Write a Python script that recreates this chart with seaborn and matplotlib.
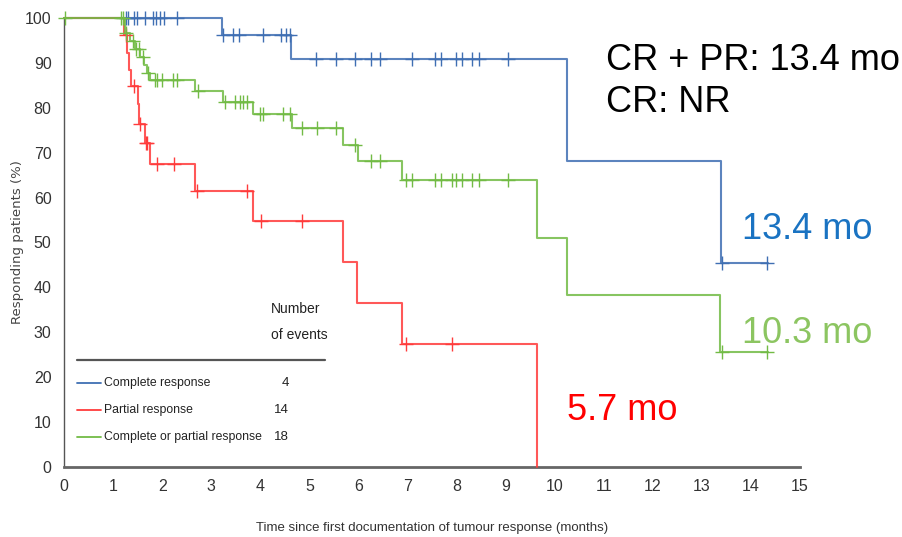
import numpy as np
import pandas as pd
import matplotlib
matplotlib.use("Agg")
import matplotlib.pyplot as plt
from matplotlib import font_manager as fm
import seaborn as sns

# ---------------- data ----------------
cr_times = [0.0, 3.22, 4.62, 10.26, 13.38, 14.35]
cr_surv = [100.0, 96.3, 90.9, 68.2, 45.5, 45.5]
cr_censor = [1.26, 1.31, 1.43, 1.48, 1.65, 1.81, 1.87, 1.96, 2.04, 2.30,
             3.25, 3.45, 3.57, 4.05, 4.43, 4.52, 4.60,
             5.13, 5.55, 5.93, 6.25, 6.44, 7.10, 7.56, 7.69, 7.99, 8.12, 8.32, 8.45, 9.04,
             13.41, 14.33]

pr_times = [0.0, 1.22, 1.29, 1.33, 1.36, 1.51, 1.53, 1.65, 1.75, 2.67, 3.86, 5.68, 5.98, 6.88, 9.63]
pr_surv = [100.0, 96.2, 92.3, 88.5, 84.8, 80.9, 76.5, 72.1, 67.4, 61.5, 54.8, 45.6, 36.5, 27.4, 0.0]
pr_censor = [1.27, 1.43, 1.55, 1.68, 1.70, 1.89, 2.24, 2.72, 3.72, 4.01, 4.84, 6.97, 7.90]

cp_times = [0.0, 1.24, 1.35, 1.45, 1.55, 1.62, 1.70, 1.75, 2.67, 3.23, 3.86, 4.64,
            5.69, 6.00, 6.88, 9.63, 10.26, 13.37, 14.35]
cp_surv = [100.0, 96.6, 94.8, 93.0, 91.3, 89.6, 87.8, 86.2, 83.8, 81.3, 78.6, 75.5,
           71.7, 68.2, 63.9, 50.9, 38.3, 25.7, 25.7]
cp_censor = [0.02, 1.17, 1.21, 1.26, 1.40, 1.47, 1.52, 1.60, 1.72, 1.85, 1.90, 1.99, 2.23, 2.30,
             2.74, 3.28, 3.48, 3.58, 3.65, 3.72, 4.00, 4.06, 4.47, 4.60, 4.84, 5.15, 5.55,
             5.93, 6.25, 6.44, 6.97, 7.10, 7.56, 7.69, 7.90, 7.99, 8.12, 8.32, 8.45, 9.04,
             13.41, 14.33]

group_names = ["Complete response", "Partial response", "Complete or partial response"]
event_counts = [4, 14, 18]
x_ticks = list(range(0, 16))
y_ticks = list(range(0, 101, 10))
annotations = ["CR + PR: 13.4 mo", "CR: NR", "13.4 mo", "10.3 mo", "5.7 mo"]

# ---------------- styling ----------------
sns.set_style("white")
available = {f.name for f in fm.fontManager.ttflist}
narrow = "Liberation Sans Narrow" if "Liberation Sans Narrow" in available else "Liberation Sans"
plt.rcParams["font.family"] = [narrow, "DejaVu Sans"]

line_colors = ["#3f6fb3", "#ff3b3b", "#72bb45"]
text_colors = {"13.4 mo": "#1a73c2", "10.3 mo": "#8cc561", "5.7 mo": "#ff0000"}

fig = plt.figure(figsize=(9.03, 5.37), dpi=100)
ax = fig.add_axes([0.0709, 0.1304, 0.8151, 0.8361])

groups = [(cr_times, cr_surv, cr_censor), (pr_times, pr_surv, pr_censor), (cp_times, cp_surv, cp_censor)]
order = [2, 1, 0]  # draw green first, blue on top
for gi in order:
    t, s, c = groups[gi]
    df = pd.DataFrame({"time": t, "surv": s})
    sns.lineplot(data=df, x="time", y="surv", ax=ax, drawstyle="steps-post",
                 color=line_colors[gi], lw=1.5, alpha=0.85, estimator=None, sort=False,
                 clip_on=False, zorder=3 + gi)
    t_arr = np.asarray(t)
    s_arr = np.asarray(s)
    idx = np.searchsorted(t_arr, np.asarray(c), side="right") - 1
    cdf = pd.DataFrame({"time": c, "surv": s_arr[idx]})
    sns.scatterplot(data=cdf, x="time", y="surv", ax=ax, marker="+", s=100,
                    color=line_colors[gi], linewidth=1.0, clip_on=False, zorder=4 + gi)

ax.set_xlim(0, 15)
ax.set_ylim(0, 100)
ax.set_xticks(x_ticks)
ax.set_yticks(y_ticks)
ax.set_xticklabels([str(v) for v in x_ticks])
ax.set_yticklabels([str(v) for v in y_ticks])
ax.tick_params(direction="out", length=6, width=1, colors="#555555", labelsize=11.5,
               labelcolor="#333333", pad=3)
for side in ["top", "right"]:
    ax.spines[side].set_visible(False)
ax.spines["left"].set_color("#555555")
ax.spines["left"].set_linewidth(1.0)
ax.spines["bottom"].set_color("#666666")
ax.spines["bottom"].set_linewidth(2.0)

ax.set_xlabel("Time since first documentation of tumour response (months)",
              fontsize=9.5, color="#333333", labelpad=20)
ax.set_ylabel("Responding patients (%)", fontsize=9.5, color="#444444",
              family=["DejaVu Sans"])
ax.yaxis.set_label_coords(-0.054, 0.5)

# ---------------- legend table ----------------
ax.text(0.281, 0.352, "Number", transform=ax.transAxes, fontsize=10, color="#222222",
        ha="left", va="center")
ax.text(0.281, 0.295, "of events", transform=ax.transAxes, fontsize=10, color="#222222",
        ha="left", va="center")
ax.plot([0.0177, 0.355], [0.238, 0.238], transform=ax.transAxes, color="#555555", lw=1.6)
row_y = [0.187, 0.127, 0.0668]
for name, n, col, y in zip(group_names, event_counts, line_colors, row_y):
    ax.plot([0.0177, 0.050], [y, y], transform=ax.transAxes, color=col, lw=1.3)
    ax.text(0.054, y, name, transform=ax.transAxes, fontsize=8.8, color="#222222",
            ha="left", va="center")
    ax.text(0.306, y, str(n), transform=ax.transAxes, fontsize=9.5, color="#222222",
            ha="right", va="center")

# ---------------- big annotations ----------------
big = ["Liberation Sans", "DejaVu Sans"]
fig.text(606 / 903, 1 - 70 / 537, annotations[0], fontsize=26, family=big, color="black",
         ha="left", va="baseline")
fig.text(606 / 903, 1 - 112 / 537, annotations[1], fontsize=26, family=big, color="black",
         ha="left", va="baseline")
fig.text(742 / 903, 1 - 239 / 537, annotations[2], fontsize=26, family=big,
         color=text_colors["13.4 mo"], ha="left", va="baseline")
fig.text(742 / 903, 1 - 343 / 537, annotations[3], fontsize=26, family=big,
         color=text_colors["10.3 mo"], ha="left", va="baseline")
fig.text(567 / 903, 1 - 420 / 537, annotations[4], fontsize=26, family=big,
         color=text_colors["5.7 mo"], ha="left", va="baseline")

fig.savefig("out.png", dpi=100)
